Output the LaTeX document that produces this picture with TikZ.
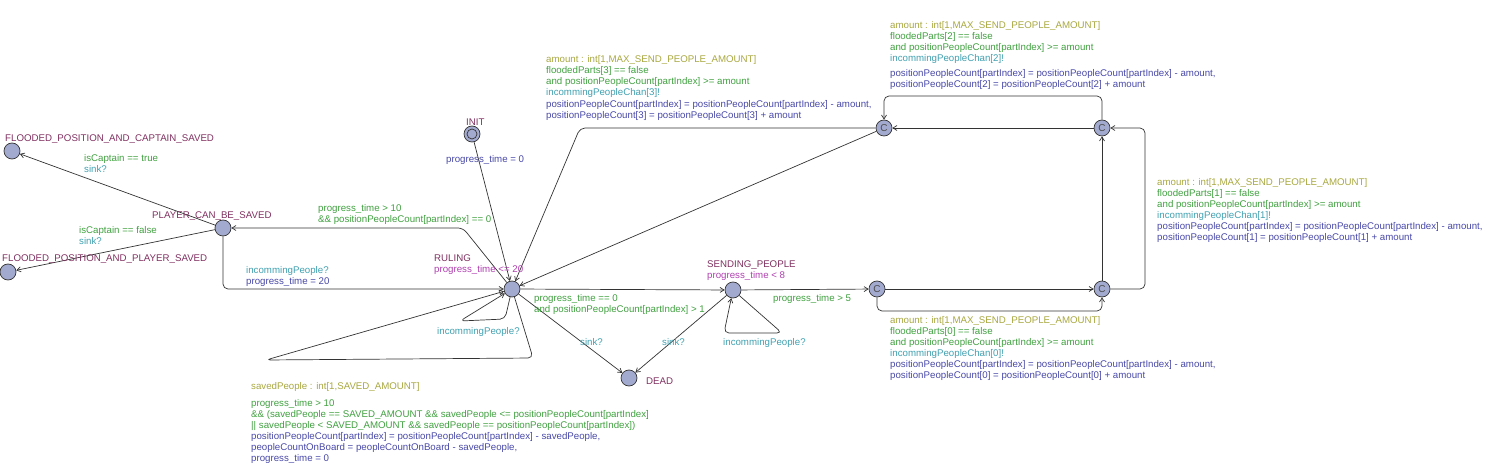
\documentclass[tikz,border=0pt]{standalone}
\usepackage{fontspec}
\setmainfont{Liberation Sans}
\usepackage{xcolor}
\usepackage{tikz}
\usetikzlibrary{arrows.meta}

\definecolor{locname}{RGB}{128,48,96}
\definecolor{invcol}{RGB}{176,64,176}
\definecolor{selcol}{RGB}{168,168,64}
\definecolor{grdcol}{RGB}{64,160,64}
\definecolor{synccol}{RGB}{64,160,176}
\definecolor{updcol}{RGB}{72,72,168}
\definecolor{locfill}{RGB}{163,170,207}

\begin{document}
\begin{tikzpicture}[x=1pt, y=-1pt, font=\fontsize{9.7}{11}\selectfont,
    lbl/.style={anchor=north west, inner sep=0pt, align=left, yshift=-2.5pt},
    commit/.style={font=\fontsize{10}{10}\selectfont, text=black!70}]
\useasboundingbox (0,0) rectangle (1491,470);
\begin{scope}[every node/.style={circle,draw=black!80,line width=0.7pt,fill=locfill,minimum size=16pt,inner sep=0pt}]
    \node (fpc) at (12,151) {};
    \node (fpp) at (8,272) {};
    \node (pcbs) at (223,228) {};
    \node[path picture={\draw[black!80,line width=0.7pt] (path picture bounding box.center) circle (5pt);}] (init) at (472,134) {};
    \node (rul) at (512,289) {};
    \node (dead) at (629,378) {};
    \node (send) at (733,290) {};
    \node[commit] (c1) at (877,289) {C};
    \node[commit] (c2) at (1102,289) {C};
    \node[commit] (c3) at (1102,128) {C};
    \node[commit] (c4) at (884,128) {C};
\end{scope}

\coordinate (kpr) at (463,228);
\coordinate (kpd) at (223,289);
\coordinate (ks1) at (505,319);
\coordinate (ks2) at (460,321);
\coordinate (kb1) at (533,358);
\coordinate (kb2) at (266,360);
\coordinate (ksp1) at (782,333);
\coordinate (ksp2) at (724,333);
\coordinate (kp0a) at (877,311);
\coordinate (kp0b) at (1102,311);
\coordinate (kp1a) at (1145,289);
\coordinate (kp1b) at (1145,128);
\coordinate (kp2a) at (1102,96);
\coordinate (kp2b) at (884,96);
\coordinate (kp3) at (580,128);

\begin{scope}[>={Straight Barb[length=4pt,width=5pt]}, rounded corners=5pt, every edge/.style={draw=black!80,line width=0.7pt}, line width=0.7pt, draw=black!80]
    \path [->] (init) edge (rul);
    \path [->] (pcbs) edge (fpc);
    \path [->] (pcbs) edge (fpp);
    \path [->] (rul) edge (send);
    \path [->] (rul) edge (dead);
    \path [->] (send) edge (dead);
    \path [->] (send) edge (c1);
    \path [->] (c1) edge (c2);
    \path [->] (c2) edge (c3);
    \path [->] (c3) edge (c4);
    \path [->] (c4) edge (rul);
    \draw [->] (rul) -- (kpr) -- (pcbs);
    \draw [->] (pcbs) -- (kpd) -- (rul);
    \draw [->] (rul) -- (ks1) -- (ks2) -- (rul);
    \draw [->] (rul) -- (kb1) -- (kb2) -- (rul);
    \draw [->] (send) -- (ksp1) -- (ksp2) -- (send);
    \draw [->] (c1) -- (kp0a) -- (kp0b) -- (c2);
    \draw [->] (c2) -- (kp1a) -- (kp1b) -- (c3);
    \draw [->] (c3) -- (kp2a) -- (kp2b) -- (c4);
    \draw [->] (c4) -- (kp3) -- (rul);
\end{scope}

\begin{scope}[every node/.style={lbl}]
    \node[text=locname] (lfpc) at (5,132) {FLOODED\_POSITION\_AND\_CAPTAIN\_SAVED};
    \node[text=locname] (lfpp) at (2,252) {FLOODED\_POSITION\_AND\_PLAYER\_SAVED};
    \node[text=locname] (lpcbs) at (152,209) {PLAYER\_CAN\_BE\_SAVED};
    \node[text=locname] (linit) at (466,116) {INIT};
    \node (lrul) at (434,252) {\textcolor{locname}{RULING}\\\textcolor{invcol}{progress\_time <= 20}};
    \node (lsend) at (707,258) {\textcolor{locname}{SENDING\_PEOPLE}\\\textcolor{invcol}{progress\_time < 8}};
    \node[text=locname] (ldead) at (646,375) {DEAD};

    \node (lcapt) at (84,152) {\textcolor{grdcol}{isCaptain == true}\\\textcolor{synccol}{sink?}};
    \node (lplay) at (79,224) {\textcolor{grdcol}{isCaptain == false}\\\textcolor{synccol}{sink?}};
    \node[text=grdcol] (lpr) at (318,202) {progress\_time > 10\\\&\& positionPeopleCount[partIndex] == 0};
    \node (lpd) at (246,264) {\textcolor{synccol}{incommingPeople?}\\\textcolor{updcol}{progress\_time = 20}};
    \node[text=updcol] (lir) at (446,153) {progress\_time = 0};
    \node[text=synccol] (lself) at (437,325) {incommingPeople?};
    \node (lsaved) at (251,380) {\textcolor{selcol}{savedPeople : int[1,SAVED\_AMOUNT]}\\[6pt]
        \textcolor{grdcol}{progress\_time > 10}\\
        \textcolor{grdcol}{\&\& (savedPeople == SAVED\_AMOUNT \&\& savedPeople <= positionPeopleCount[partIndex]}\\
        \textcolor{grdcol}{|| savedPeople < SAVED\_AMOUNT \&\& savedPeople == positionPeopleCount[partIndex])}\\
        \textcolor{updcol}{positionPeopleCount[partIndex] = positionPeopleCount[partIndex] - savedPeople,}\\
        \textcolor{updcol}{peopleCountOnBoard = peopleCountOnBoard - savedPeople,}\\
        \textcolor{updcol}{progress\_time = 0}};
    \node[text=grdcol] (lrs) at (534,292) {progress\_time == 0\\and positionPeopleCount[partIndex] > 1};
    \node[text=synccol] (lrd) at (580,336) {sink?};
    \node[text=synccol] (lsd) at (662,336) {sink?};
    \node[text=synccol] (lsloop) at (723,336) {incommingPeople?};
    \node[text=grdcol] (lsc) at (773,292) {progress\_time > 5};

    \node (lp0) at (890,314) {\textcolor{selcol}{amount : int[1,MAX\_SEND\_PEOPLE\_AMOUNT]}\\
        \textcolor{grdcol}{floodedParts[0] == false}\\
        \textcolor{grdcol}{and positionPeopleCount[partIndex] >= amount}\\
        \textcolor{synccol}{incommingPeopleChan[0]!}\\
        \textcolor{updcol}{positionPeopleCount[partIndex] = positionPeopleCount[partIndex] - amount,}\\
        \textcolor{updcol}{positionPeopleCount[0] = positionPeopleCount[0] + amount}};
    \node (lp1) at (1157,176) {\textcolor{selcol}{amount : int[1,MAX\_SEND\_PEOPLE\_AMOUNT]}\\
        \textcolor{grdcol}{floodedParts[1] == false}\\
        \textcolor{grdcol}{and positionPeopleCount[partIndex] >= amount}\\
        \textcolor{synccol}{incommingPeopleChan[1]!}\\
        \textcolor{updcol}{positionPeopleCount[partIndex] = positionPeopleCount[partIndex] - amount,}\\
        \textcolor{updcol}{positionPeopleCount[1] = positionPeopleCount[1] + amount}};
    \node (lp2) at (890,19) {\textcolor{selcol}{amount : int[1,MAX\_SEND\_PEOPLE\_AMOUNT]}\\
        \textcolor{grdcol}{floodedParts[2] == false}\\
        \textcolor{grdcol}{and positionPeopleCount[partIndex] >= amount}\\
        \textcolor{synccol}{incommingPeopleChan[2]!}\\[4pt]
        \textcolor{updcol}{positionPeopleCount[partIndex] = positionPeopleCount[partIndex] - amount,}\\
        \textcolor{updcol}{positionPeopleCount[2] = positionPeopleCount[2] + amount}};
    \node (lp3) at (546,53) {\textcolor{selcol}{amount : int[1,MAX\_SEND\_PEOPLE\_AMOUNT]}\\
        \textcolor{grdcol}{floodedParts[3] == false}\\
        \textcolor{grdcol}{and positionPeopleCount[partIndex] >= amount}\\
        \textcolor{synccol}{incommingPeopleChan[3]!}\\[1pt]
        \textcolor{updcol}{positionPeopleCount[partIndex] = positionPeopleCount[partIndex] - amount,}\\
        \textcolor{updcol}{positionPeopleCount[3] = positionPeopleCount[3] + amount}};
\end{scope}
\end{tikzpicture}
\end{document}
